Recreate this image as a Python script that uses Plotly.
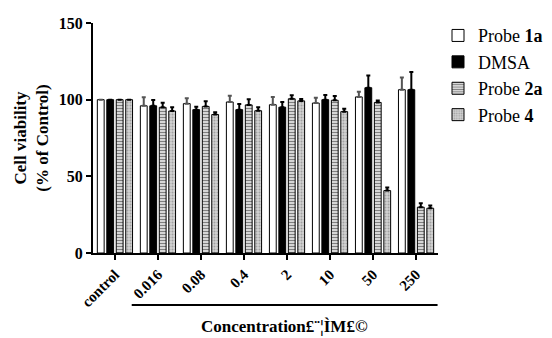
import plotly.graph_objects as go

# Concentrations tested (µM) plus untreated control
categories = ["control", "0.016", "0.08", "0.4", "2", "10", "50", "250"]

# Mean cell viability (% of control) per compound
probe_1a = [100, 96, 97.4, 98.5, 96.7, 97.8, 101.8, 106.5]
dmsa = [100, 96, 93.5, 93.5, 95.1, 100, 107.8, 106.5]
probe_2a = [100, 95, 95.6, 96.6, 100.6, 99.6, 98.2, 29.9]
probe_4 = [100, 92.6, 90.3, 92.8, 99.2, 92.2, 40.7, 29.2]

# Upper SD for each bar
probe_1a_err = [0, 5.5, 3.5, 4, 5, 3.4, 3.4, 8]
dmsa_err = [0, 3.8, 1.8, 3.7, 3.3, 3, 7.9, 11.5]
probe_2a_err = [0, 3, 3.3, 3.6, 2.3, 2.8, 1.3, 2.6]
probe_4_err = [0, 2.4, 1.5, 2.3, 1.3, 1.9, 2, 1.8]

FONT = "Liberation Serif, Times New Roman, serif"

fig = go.Figure()


def add_series(name, values, errs, fill, pattern, err_color):
    fig.add_trace(go.Bar(
        name=name,
        x=categories,
        y=values,
        marker=dict(color=fill, line=dict(color="black", width=1), pattern=pattern),
        error_y=dict(type="data", array=errs, arrayminus=[0] * len(errs),
                     symmetric=False, color=err_color, thickness=2, width=2),
    ))


add_series("Probe <b>1a</b>", probe_1a, probe_1a_err, "white", None, "#555555")
add_series("DMSA", dmsa, dmsa_err, "black", None, "black")
add_series("Probe <b>2a</b>", probe_2a, probe_2a_err, "white",
           dict(shape="-", fgcolor="black", bgcolor="white", size=3, solidity=0.55,
                fillmode="overlay"), "black")
add_series("Probe <b>4</b>", probe_4, probe_4_err, "#d2d2d2",
           dict(shape=".", fgcolor="#707070", bgcolor="#d2d2d2", size=3, solidity=0.35,
                fillmode="overlay"), "black")

fig.update_layout(
    width=552, height=338,
    margin=dict(l=93, r=114, t=23, b=85, autoexpand=False),
    paper_bgcolor="white", plot_bgcolor="white",
    barmode="group", bargap=0.12, bargroupgap=0.28,
    font=dict(family=FONT, color="black"),
    legend=dict(x=1.0, xanchor="left", y=1.025, yanchor="top",
                font=dict(family=FONT, size=18, color="black"),
                bgcolor="rgba(0,0,0,0)", tracegroupgap=0),
    showlegend=True,
)

fig.update_yaxes(
    range=[0, 150], tickvals=[0, 50, 100, 150],
    showline=True, linecolor="black", linewidth=2,
    ticks="outside", ticklen=5, tickwidth=2, tickcolor="black",
    showgrid=False, zeroline=False,
    tickfont=dict(family=FONT, size=16, color="black"),
    ticktext=["<b>0</b>", "<b>50</b>", "<b>100</b>", "<b>150</b>"],
    title=dict(text="<b>Cell viability<br>(% of Control)</b>",
               font=dict(family=FONT, size=17, color="black"), standoff=6),
)

fig.update_xaxes(
    type="category",
    range=[-0.51, 7.51],
    showline=True, linecolor="black", linewidth=2,
    ticks="outside", ticklen=5, tickwidth=2, tickcolor="black",
    showgrid=False, tickangle=-45,
    tickfont=dict(family=FONT, size=15, color="black"),
    tickvals=categories,
    ticktext=[f"<b>{c}</b>" for c in categories],
)

# Bracket spanning the treated concentrations, with its caption
fig.add_shape(type="line", xref="x", yref="paper", x0=0.39, x1=7.5, y0=-0.226, y1=-0.226,
              line=dict(color="black", width=2))
fig.add_annotation(xref="x", yref="paper", x=3.95, y=-0.32, yanchor="middle",
                   text="<b>Concentration£¨¦ÌM£©</b>", showarrow=False,
                   font=dict(family=FONT, size=17, color="black"))

fig.write_html("out.html")
